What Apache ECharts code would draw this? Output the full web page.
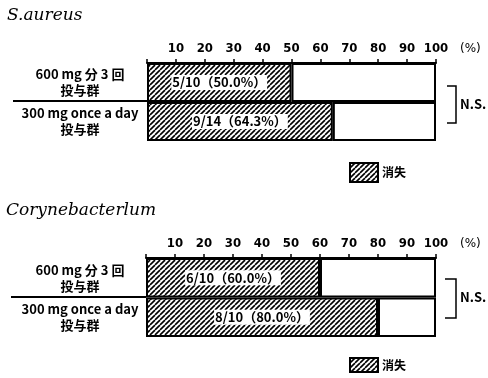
<!DOCTYPE html>
<html>
<head>
<meta charset="utf-8">
<script src="https://cdn.jsdelivr.net/npm/echarts@6/dist/echarts.min.js"></script>
<style>
  html, body { margin: 0; padding: 0; background: #fff; }
  #chart { width: 488px; height: 378px; }
</style>
</head>
<body>
<div id="chart"></div>
<script>
// groups (y categories)
var groups = ['600 mg 分 3 回\n投与群', '300 mg once a day\n投与群'];

// S.aureus
var saCured = [5, 9];
var saTotal = [10, 14];
var saRate = [50.0, 64.3];

// Corynebacterlum
var coCured = [6, 8];
var coTotal = [10, 10];
var coRate = [60.0, 80.0];

var numFont = '"Liberation Sans Narrow", "DejaVu Sans Condensed", sans-serif';
var jpFont = '"Noto Sans CJK JP", sans-serif';

// hatch pattern ////
function makeHatch() {
  var s = 5;
  var c = document.createElement('canvas');
  c.width = s; c.height = s;
  var ctx = c.getContext('2d');
  ctx.fillStyle = '#fff';
  ctx.fillRect(0, 0, s, s);
  ctx.strokeStyle = '#000';
  ctx.lineWidth = 1.6;
  for (var k = -1; k <= 1; k++) {
    ctx.beginPath();
    ctx.moveTo(k * s, s);
    ctx.lineTo(k * s + s, 0);
    ctx.stroke();
  }
  return { image: c, repeat: 'repeat' };
}
var hatch = makeHatch();

function xAxisOf(idx) {
  return {
    gridIndex: idx,
    type: 'value',
    position: 'top',
    min: 0, max: 100, interval: 10,
    axisLine: { show: true, lineStyle: { color: '#000', width: 2 } },
    axisTick: { show: true, length: 4, lineStyle: { color: '#000', width: 1.5 } },
    splitLine: { show: false },
    axisLabel: {
      color: '#000', fontSize: 13, fontWeight: 'bold', fontFamily: numFont, margin: 8,
      formatter: function (v) { return v === 0 ? '' : v; }
    },
    name: '(%)',
    nameLocation: 'end',
    nameGap: 24,
    nameTextStyle: {
      color: '#000', fontSize: 12, fontFamily: 'DejaVu Sans',
      verticalAlign: 'bottom', lineHeight: 12, padding: [0, 0, 8, 0]
    }
  };
}

function yAxisOf(idx, margin) {
  return {
    gridIndex: idx,
    type: 'category',
    inverse: true,
    data: groups,
    axisLine: { show: false },
    axisTick: { show: false },
    axisLabel: {
      color: '#000', fontSize: 13, fontWeight: 'bold', fontFamily: jpFont,
      align: 'center', margin: margin, lineHeight: 16
    }
  };
}

function seriesOf(idx, rate, cured, total) {
  return [
    {
      name: '消失', type: 'bar', stack: 's' + idx,
      xAxisIndex: idx, yAxisIndex: idx,
      barCategoryGap: '0%',
      data: rate,
      itemStyle: { color: hatch, borderColor: '#000', borderWidth: 2 },
      label: {
        show: true, position: 'inside',
        color: '#000', fontSize: 13, fontWeight: 'bold', fontFamily: jpFont,
        backgroundColor: '#fff', padding: [1, 1],
        formatter: function (p) {
          return cured[p.dataIndex] + '/' + total[p.dataIndex] + '（' + rate[p.dataIndex].toFixed(1) + '%）';
        }
      },
      emphasis: { disabled: true }
    },
    {
      name: '残り', type: 'bar', stack: 's' + idx,
      xAxisIndex: idx, yAxisIndex: idx,
      barCategoryGap: '0%',
      data: rate.map(function (v) { return 100 - v; }),
      itemStyle: { color: '#fff', borderColor: '#000', borderWidth: 2 },
      emphasis: { disabled: true }
    }
  ];
}

function legendOf(left, top, h) {
  return {
    data: ['消失'], left: left, top: top, padding: 0,
    icon: 'rect', itemWidth: 28, itemHeight: h, itemGap: 4,
    selectedMode: false,
    itemStyle: { borderColor: '#000', borderWidth: 2 },
    textStyle: { color: '#000', fontSize: 12, fontWeight: 'bold', fontFamily: jpFont, padding: [0, 0, 0, -1] }
  };
}

function bracket(x1, x2, y1, y2) {
  return {
    type: 'polyline',
    shape: { points: [[x1, y1], [x2, y1], [x2, y2], [x1, y2]] },
    style: { stroke: '#000', lineWidth: 1.5, fill: null }
  };
}

var chart = echarts.init(document.getElementById('chart'), null, { renderer: 'canvas' });

chart.setOption({
  animation: false,
  backgroundColor: '#fff',
  title: [
    { text: 'S.aureus', left: 7, top: 7, padding: 0,
      textStyle: { color: '#000', fontSize: 17, fontWeight: 'normal', fontStyle: 'italic', fontFamily: 'DejaVu Serif' } },
    { text: 'Corynebacterlum', left: 6, top: 202, padding: 0,
      textStyle: { color: '#000', fontSize: 17, fontWeight: 'normal', fontStyle: 'italic', fontFamily: 'DejaVu Serif' } }
  ],
  legend: [legendOf(349, 162, 19), legendOf(349, 357, 14)],
  grid: [
    { left: 147, right: 52, top: 63, height: 78 },
    { left: 146, right: 52, top: 258, height: 79 }
  ],
  xAxis: [xAxisOf(0), xAxisOf(1)],
  yAxis: [yAxisOf(0, 67), yAxisOf(1, 66)],
  series: seriesOf(0, saRate, saCured, saTotal).concat(seriesOf(1, coRate, coCured, coTotal)),
  graphic: [
    { type: 'line', shape: { x1: 13, y1: 101, x2: 147, y2: 101 }, style: { stroke: '#000', lineWidth: 2 } },
    { type: 'line', shape: { x1: 11, y1: 297, x2: 146, y2: 297 }, style: { stroke: '#000', lineWidth: 2 } },
    bracket(447, 456, 86, 123),
    bracket(445, 456, 279, 318),
    { type: 'text', left: 460, top: 98,
      style: { text: 'N.S.', fill: '#000', fontSize: 13, fontWeight: 'bold', fontFamily: jpFont } },
    { type: 'text', left: 460, top: 291,
      style: { text: 'N.S.', fill: '#000', fontSize: 13, fontWeight: 'bold', fontFamily: jpFont } }
  ]
});
</script>
</body>
</html>
